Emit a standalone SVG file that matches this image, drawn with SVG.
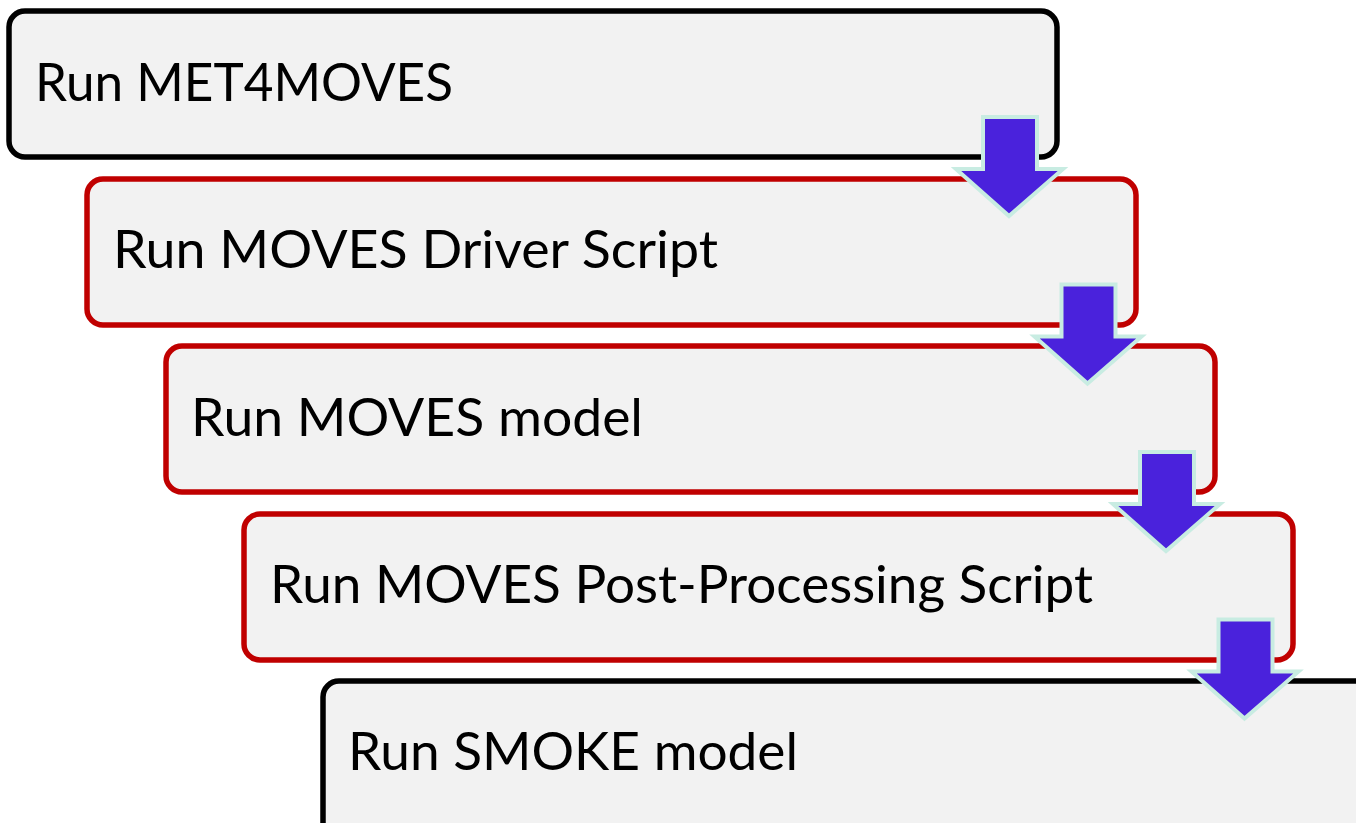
<svg xmlns="http://www.w3.org/2000/svg" width="1356" height="823" viewBox="0 0 1356 823">
<style>
.box{fill:#f2f2f2;stroke-width:5.5}
.blk{stroke:#000}
.red{stroke:#c00000}
.lbl{font-family:"Lato","Liberation Sans",sans-serif;font-size:52px;fill:#000}
.arr{fill:#4a22dc;stroke:#c8ece2;stroke-width:4;stroke-linejoin:miter}
</style>
<defs>
<path id="dn" d="M27,0 L81,0 L81,52 L107,52 L53,99 L0,52 L27,52 Z"/>
</defs>
<rect width="1356" height="823" fill="#ffffff"/>
<g id="n1"><rect class="box blk" x="9" y="11" width="1048" height="146" rx="16"/><text class="lbl" x="35" y="101" textLength="418" lengthAdjust="spacingAndGlyphs">Run MET4MOVES</text></g>
<g id="n2"><rect class="box red" x="87" y="179" width="1049" height="146" rx="16"/><text class="lbl" x="113" y="268" textLength="605" lengthAdjust="spacingAndGlyphs">Run MOVES Driver Script</text></g>
<g id="n3"><rect class="box red" x="166" y="346" width="1049" height="146" rx="16"/><text class="lbl" x="191" y="436" textLength="452" lengthAdjust="spacingAndGlyphs">Run MOVES model</text></g>
<g id="n4"><rect class="box red" x="244" y="514" width="1049" height="146" rx="16"/><text class="lbl" x="270" y="603" textLength="823" lengthAdjust="spacingAndGlyphs">Run MOVES Post-Processing Script</text></g>
<g id="n5"><rect class="box blk" x="323" y="681" width="1100" height="160" rx="16"/><text class="lbl" x="348" y="770" textLength="450" lengthAdjust="spacingAndGlyphs">Run SMOKE model</text></g>
<g id="connectors">
<use href="#dn" class="arr" x="956" y="117"/>
<use href="#dn" class="arr" x="1034.5" y="284.5"/>
<use href="#dn" class="arr" x="1113" y="452"/>
<use href="#dn" class="arr" x="1191.5" y="619.5"/>
</g>
</svg>
